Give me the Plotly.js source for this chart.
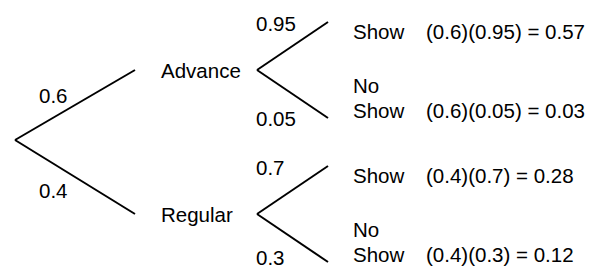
<!DOCTYPE html>
<html>
<head>
<meta charset="utf-8">
<script src="https://cdn.plot.ly/plotly-3.0.1.min.js"></script>
<style>html,body{margin:0;padding:0;background:#fff;}#chart{width:608px;height:270px;}</style>
</head>
<body>
<div id="chart"></div>
<script>
// ---- data ----
var firstStage = ['Advance', 'Regular'];
var firstProb = [0.6, 0.4];
var secondStage = ['Show', 'No Show'];
var secondProbAdvance = [0.95, 0.05];
var secondProbRegular = [0.7, 0.3];

// ---- layout geometry (pixels in a 608x270 frame) ----
var W = 608, H = 270;
var rootX = 15, rootY = 140;
var lvl1EndX = 135, lvl1Y = [70, 214];
var lvl1LabelX = 160;
var lvl2StartX = 257, lvl2EndX = 328, lvl2Spread = 48;
var outcomeX = 352, formulaX = 425;
var fontSize = 20.5;
var font = {family: 'Liberation Sans, Arial, Helvetica, sans-serif', size: fontSize, color: '#000'};

var secondProbs = [secondProbAdvance, secondProbRegular];
var traces = [];
var ann = [];
function line(x0, y0, x1, y1) {
  traces.push({x: [x0, x1], y: [y0, y1], mode: 'lines', type: 'scatter',
    line: {color: '#000', width: 2}, hoverinfo: 'skip', showlegend: false});
}
function txt(x, y, t, anchor) {
  ann.push({x: x, y: y, xref: 'x', yref: 'y', text: t, showarrow: false,
    xanchor: anchor || 'left', yanchor: 'middle', font: font, borderpad: 0});
}
function fmt(v) { return String(v); }

firstStage.forEach(function (name, i) {
  var ny = lvl1Y[i];
  line(rootX, rootY, lvl1EndX, ny);
  txt(53, i === 0 ? 95 : 190, fmt(firstProb[i]), 'center');
  txt(lvl1LabelX, ny, name);
  secondStage.forEach(function (out, j) {
    var ey = ny + (j === 0 ? -lvl2Spread : lvl2Spread);
    line(lvl2StartX, ny, lvl2EndX, ey);
    var p = secondProbs[i][j];
    txt(255, j === 0 ? ey + 1 : Math.min(ey, H - 13), fmt(p));
    var ty = j === 0 ? ey + 9 : ey - 8;
    var words = out.split(' ');
    if (words.length > 1) {
      txt(outcomeX, ty - 25, words[0]);
      txt(outcomeX, ty, words[1]);
    } else {
      txt(outcomeX, ty, out);
    }
    var joint = (firstProb[i] * p).toFixed(2);
    txt(formulaX, ty, '(' + fmt(firstProb[i]) + ')(' + fmt(p) + ') = ' + joint);
  });
});

var layout = {
  width: W, height: H,
  margin: {l: 0, r: 0, t: 0, b: 0, pad: 0},
  paper_bgcolor: '#fff', plot_bgcolor: '#fff',
  xaxis: {range: [0, W], visible: false, fixedrange: true},
  yaxis: {range: [H, 0], visible: false, fixedrange: true},
  annotations: ann,
  showlegend: false
};
Plotly.newPlot('chart', traces, layout, {staticPlot: true, displayModeBar: false});
</script>
</body>
</html>
